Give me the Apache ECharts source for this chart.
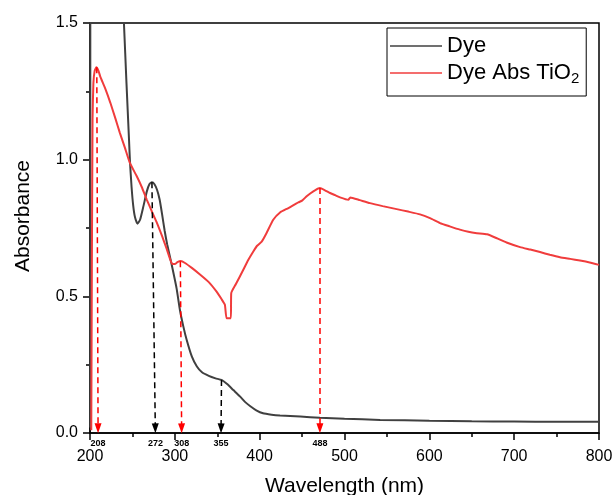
<!DOCTYPE html>
<html>
<head>
<meta charset="utf-8">
<script src="https://cdn.jsdelivr.net/npm/echarts@6/dist/echarts.min.js"></script>
<style>
  html, body { margin: 0; padding: 0; background: #fff; }
  #chart { width: 614px; height: 495px; }
</style>
</head>
<body>
<div id="chart"></div>
<script>
// spectra: [wavelength nm, absorbance]
const dyeSpectrum = [
  [200.3, 0.02], [200.8, 3.0], [238.5, 1.6], [240, 1.5], [243, 1.28], [246, 1.073], [247, 1.0],
  [249, 0.9], [251, 0.83], [253, 0.79], [256, 0.766], [259, 0.78], [263, 0.83], [267, 0.884],
  [270, 0.91], [273, 0.917], [276, 0.91], [279, 0.89], [282, 0.855], [285, 0.8], [288, 0.74],
  [291, 0.69], [296, 0.62], [302, 0.53], [306, 0.45], [310, 0.39], [314, 0.34], [320, 0.28],
  [326, 0.243], [332, 0.222], [340, 0.209], [348, 0.2], [355, 0.194], [362, 0.178], [369, 0.157],
  [377, 0.133], [383, 0.113], [389, 0.098], [396, 0.083], [404, 0.072], [414, 0.067], [424, 0.064],
  [448, 0.06], [471, 0.056], [500, 0.052], [542, 0.048], [600, 0.045], [650, 0.043], [700, 0.042],
  [750, 0.041], [800, 0.041]
];
const tioSpectrum = [
  [201.5, 0.01], [202.2, 0.6], [203, 1.15], [204, 1.28], [205.5, 1.325], [207.5, 1.338], [210, 1.325],
  [212, 1.305], [218, 1.26], [224, 1.208], [230, 1.15], [235, 1.1], [241, 1.045], [247, 0.988],
  [255, 0.94], [261, 0.9], [267, 0.853], [273, 0.81], [279, 0.768], [285, 0.72], [290, 0.677],
  [294, 0.64], [297, 0.618], [300, 0.618], [303, 0.625], [307, 0.629], [312, 0.622], [320, 0.604],
  [330, 0.579], [340, 0.552], [349, 0.518], [355, 0.49], [359, 0.469], [361, 0.42], [366, 0.42],
  [366.5, 0.512], [372, 0.545], [380.7, 0.597], [386, 0.63], [392.5, 0.664], [397, 0.685],
  [402.4, 0.7], [408, 0.731], [416, 0.78], [424, 0.807], [433.8, 0.823], [445.6, 0.844], [450, 0.85],
  [455.4, 0.866], [460, 0.877], [465.2, 0.888], [471, 0.896], [477, 0.888], [483, 0.878], [489, 0.87],
  [494.7, 0.862], [504.5, 0.853], [506.8, 0.862], [518, 0.852], [530, 0.841], [545, 0.83],
  [561.5, 0.819], [575, 0.81], [589, 0.8], [600.8, 0.786], [612.6, 0.768], [624, 0.756], [636, 0.744],
  [646, 0.736], [656, 0.731], [668, 0.727], [680, 0.712], [691, 0.697], [707, 0.68], [719, 0.671],
  [730.5, 0.662], [742, 0.652], [754, 0.643], [766, 0.637], [777.6, 0.631], [789, 0.624], [800, 0.615]
];
// peak arrows: label, top point [wl, abs], foot wavelength
const dyePeaks = [
  { label: '272', top: [273, 0.917], foot: 277 },
  { label: '355', top: [355, 0.194], foot: 354.5 }
];
const tioPeaks = [
  { label: '208', top: [208, 1.338], foot: 209.5 },
  { label: '308', top: [306.5, 0.628], foot: 308 },
  { label: '488', top: [471, 0.896], foot: 471 }
];
const xTicks = { min: 200, max: 800, step: 100 };
const yTicks = { min: 0, max: 1.5, step: 0.5 };

const FONT = '"Liberation Sans", Arial, sans-serif';
const DYE = '#404040';
const TIO = '#f03c3c';

const arrows = (peaks, color) => ({
  silent: true,
  animation: false,
  symbol: ['none', 'triangle'],
  symbolSize: [7, 10],
  lineStyle: { color, type: [6, 4], width: 1.5 },
  label: {
    show: true, position: 'end', distance: 11, color: '#000',
    fontFamily: FONT, fontSize: 9, fontWeight: 'bold',
    formatter: (p) => p.data.name || p.name
  },
  data: peaks.map((p) => [
    { coord: p.top, name: p.label },
    { coord: [p.foot, 0.017] }
  ])
});

const chart = echarts.init(document.getElementById('chart'), null, { renderer: 'canvas' });
chart.setOption({
  animation: false,
  grid: {
    left: 90, right: 15, top: 23, bottom: 62, outerBoundsMode: 'none',
    show: true, borderColor: '#000', borderWidth: 1.5
  },
  legend: {
    left: 387, top: 28, orient: 'vertical',
    borderColor: '#000', borderWidth: 1, padding: [5, 7, 10, 3],
    icon: 'rect', itemWidth: 52, itemHeight: 1.5, itemGap: 1,
    textStyle: {
      fontFamily: FONT, fontSize: 22, color: '#000', lineHeight: 26,
      rich: { sub: { fontFamily: FONT, fontSize: 15, lineHeight: 15, verticalAlign: 'bottom', color: '#000' } }
    },
    formatter: (n) => n.replace(/TiO2$/, 'TiO{sub|2}'),
    data: ['Dye', 'Dye Abs TiO2']
  },
  xAxis: {
    type: 'value', min: xTicks.min, max: xTicks.max, interval: xTicks.step,
    name: 'Wavelength (nm)', nameLocation: 'middle', nameGap: 43,
    nameTextStyle: { fontFamily: FONT, fontSize: 21, color: '#000' },
    axisLine: { onZero: false, lineStyle: { color: '#000', width: 1.5 } },
    axisTick: { inside: false, length: 7, lineStyle: { color: '#000', width: 1.5 } },
    minorTick: { show: true, splitNumber: 2, length: 4, lineStyle: { color: '#000', width: 1.5 } },
    axisLabel: { fontFamily: FONT, fontSize: 16, color: '#000', margin: 16 },
    splitLine: { show: false }
  },
  yAxis: {
    type: 'value', min: yTicks.min, max: yTicks.max, interval: yTicks.step,
    name: 'Absorbance', nameLocation: 'middle', nameGap: 56,
    nameTextStyle: { fontFamily: FONT, fontSize: 21, color: '#000', padding: [0, 0, 0, 24] },
    axisLine: { show: true, lineStyle: { color: '#000', width: 1.5 } },
    axisTick: { show: true, inside: false, length: 7, lineStyle: { color: '#000', width: 1.5 } },
    minorTick: { show: true, splitNumber: 2, length: 4, lineStyle: { color: '#000', width: 1.5 } },
    axisLabel: { fontFamily: FONT, fontSize: 16, color: '#000', margin: 12, formatter: (v) => v.toFixed(1) },
    splitLine: { show: false }
  },
  series: [
    {
      name: 'Dye', type: 'line', data: dyeSpectrum, symbol: 'none', smooth: 0.2,
      lineStyle: { color: DYE, width: 2 }, itemStyle: { color: DYE },
      markLine: arrows(dyePeaks, '#000')
    },
    {
      name: 'Dye Abs TiO2', type: 'line', data: tioSpectrum, symbol: 'none', smooth: 0.15,
      lineStyle: { color: TIO, width: 2 }, itemStyle: { color: TIO },
      markLine: arrows(tioPeaks, '#ff0000')
    }
  ]
});
</script>
</body>
</html>
